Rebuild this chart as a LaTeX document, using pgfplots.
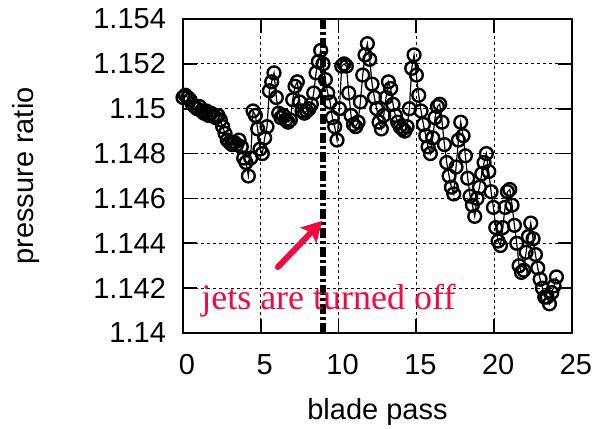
\documentclass[border=0pt]{standalone}
\usepackage{fontspec}
\setmainfont{Liberation Sans}
\newfontfamily\serifred{Liberation Serif}
\usepackage{pgfplots}
\pgfplotsset{compat=1.18}
\usetikzlibrary{arrows.meta}
\definecolor{jetred}{RGB}{240,10,65}

\pgfplotstableread{
x y
0.00 1.1505
0.15 1.1506
0.30 1.1505
0.45 1.1504
0.60 1.1502
0.75 1.1501
0.90 1.1500
1.05 1.1501
1.20 1.1499
1.35 1.1498
1.50 1.1499
1.65 1.1497
1.80 1.1498
1.95 1.1497
2.10 1.1496
2.25 1.1497
2.40 1.1495
2.55 1.1492
2.70 1.1489
2.85 1.1486
3.00 1.1485
3.15 1.1484
3.30 1.1485
3.45 1.1484
3.60 1.1486
3.75 1.1483
3.90 1.1478
4.05 1.1476
4.20 1.1470
4.35 1.1478
4.50 1.1499
4.65 1.1497
4.80 1.1491
4.95 1.1482
5.10 1.1480
5.25 1.1487
5.40 1.1492
5.55 1.1508
5.70 1.1512
5.85 1.1516
6.00 1.1505
6.15 1.1498
6.30 1.1496
6.45 1.1497
6.60 1.1495
6.75 1.1494
6.90 1.1495
7.05 1.1504
7.20 1.1510
7.35 1.1512
7.50 1.1503
7.65 1.1499
7.80 1.1498
7.95 1.1499
8.10 1.1500
8.25 1.1502
8.40 1.1507
8.55 1.1516
8.70 1.1521
8.85 1.1526
9.00 1.1520
9.15 1.1513
9.30 1.1507
9.45 1.1503
9.60 1.1496
9.75 1.1492
9.90 1.1486
10.05 1.1500
10.20 1.1519
10.35 1.1520
10.50 1.1519
10.65 1.1507
10.80 1.1497
10.95 1.1493
11.10 1.1492
11.25 1.1494
11.40 1.1503
11.55 1.1515
11.70 1.1524
11.85 1.1529
12.00 1.1522
12.15 1.1511
12.30 1.1505
12.45 1.1500
12.60 1.1494
12.75 1.1491
12.90 1.1497
13.05 1.1505
13.20 1.1512
13.35 1.1509
13.50 1.1502
13.65 1.1497
13.80 1.1494
13.95 1.1492
14.10 1.1491
14.25 1.1490
14.40 1.1492
14.55 1.1500
14.70 1.1518
14.85 1.1524
15.00 1.1515
15.15 1.1506
15.30 1.1499
15.45 1.1493
15.60 1.1488
15.75 1.1483
15.90 1.1480
16.05 1.1487
16.20 1.1496
16.35 1.1501
16.50 1.1502
16.65 1.1494
16.80 1.1484
16.95 1.1476
17.10 1.1470
17.25 1.1465
17.40 1.1462
17.55 1.1474
17.70 1.1486
17.85 1.1494
18.00 1.1488
18.15 1.1479
18.30 1.1469
18.45 1.1461
18.60 1.1457
18.75 1.1452
18.90 1.1460
19.05 1.1465
19.20 1.1471
19.35 1.1476
19.50 1.1480
19.65 1.1472
19.80 1.1463
19.95 1.1456
20.10 1.1447
20.25 1.1441
20.40 1.1439
20.55 1.1447
20.70 1.1456
20.85 1.1463
21.00 1.1464
21.15 1.1457
21.30 1.1448
21.45 1.1440
21.60 1.1430
21.75 1.1427
21.90 1.1428
22.05 1.1436
22.20 1.1443
22.35 1.1449
22.50 1.1442
22.65 1.1435
22.80 1.1429
22.95 1.1424
23.10 1.1420
23.25 1.1416
23.40 1.1416
23.55 1.1413
23.70 1.1418
23.85 1.1421
24.00 1.1425
}\pressdata

\begin{document}
\begin{tikzpicture}
  \begin{axis}[
      at={(0,0)}, anchor=south west,
      width=194.5pt, height=157pt,
      scale only axis,
      xmin=0, xmax=25,
      ymin=1.14, ymax=1.154,
      xtick={0,5,10,15,20,25},
      ytick={1.14,1.142,1.144,1.146,1.148,1.15,1.152,1.154},
      scaled y ticks=false,
      yticklabel style={/pgf/number format/precision=3,
                        /pgf/number format/fixed},
      /pgf/number format/assume math mode=true,
      tick label style={font=\fontsize{14.5}{17}\selectfont},
      label style={font=\fontsize{14.5}{17}\selectfont},
      xlabel={blade pass},
      ylabel={pressure ratio},
      xlabel style={yshift=-5pt},
      ylabel style={yshift=20pt},
      yticklabel style={xshift=-5pt},
      xticklabel style={yshift=-7pt, xshift=2pt},
      tick align=inside,
      major tick length=7pt,
      tick style={black, line width=0.9pt},
      axis line style={line width=1pt},
      grid=major,
      grid style={black, line width=0.5pt, dash pattern=on 1.5pt off 1.5pt},
      clip=false,
    ]
    \addplot[black, line width=0.6pt, mark=o, mark size=3.2pt,
             mark options={solid, line width=1.2pt}]
      table[x=x, y=y] {\pressdata};
    % jets switched off
    \addplot[black, line width=2.6pt,
             dash pattern=on 5pt off 1.5pt on 1.5pt off 1.5pt]
      coordinates {(9,1.14) (9,1.154)};
    \draw[jetred, line width=3pt, line cap=round,
          -{Stealth[length=10pt,width=11pt,inset=2pt]}]
      (axis cs:6.1,1.14294) -- (axis cs:8.95,1.14500);
    \node[anchor=base west, inner sep=0pt, text=jetred,
          font=\serifred\fontsize{18}{20}\selectfont]
      at (axis cs:1.15,1.14105) {jets are turned off};
  \end{axis}
  \pgfresetboundingbox
  \path (-91.5pt,-48pt) rectangle (206.5pt,166.5pt);
\end{tikzpicture}
\end{document}
